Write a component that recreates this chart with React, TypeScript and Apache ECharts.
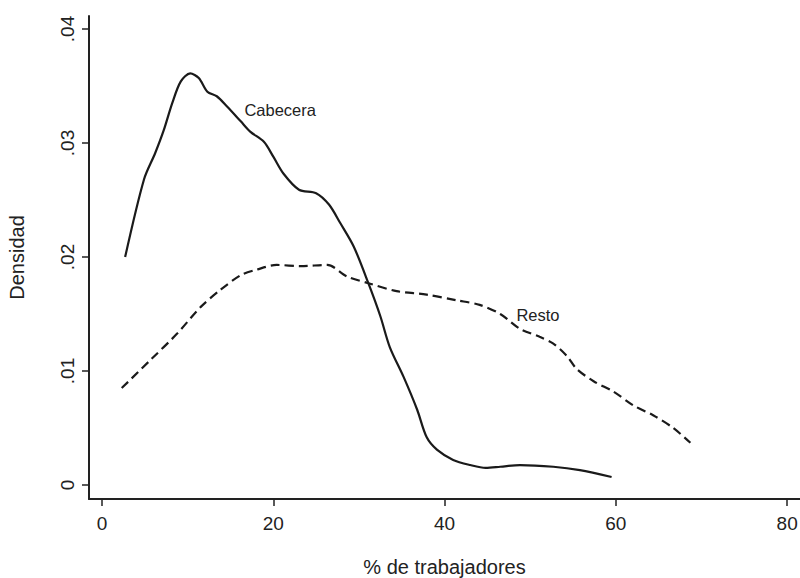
import React, { useEffect, useRef } from "react";
import * as echarts from "echarts";

const cabeceraX = [2.7, 4.9, 6.2, 7.2, 8.2, 9.2, 10.3, 11.3, 12.3, 13.4, 14.6, 16.2, 17.3, 18.9, 20.0, 21.2, 23.0, 25.0, 26.5, 27.8, 29.4, 31.1, 32.5, 33.6, 35.2, 36.8, 37.9, 39.1, 41.0, 43.0, 44.8, 46.5, 48.8, 52.7, 55.8, 59.5];
const cabeceraY = [0.0200, 0.0268, 0.0291, 0.0311, 0.0335, 0.0354, 0.0361, 0.0357, 0.0345, 0.0341, 0.0332, 0.0319, 0.0310, 0.0301, 0.0288, 0.0273, 0.0259, 0.0256, 0.0246, 0.0230, 0.0209, 0.0177, 0.0148, 0.0121, 0.0095, 0.0066, 0.0042, 0.0031, 0.0022, 0.00175, 0.0015, 0.0016, 0.00175, 0.0016, 0.0013, 0.0007];

const restoX = [2.3, 5.7, 8.8, 11.5, 13.8, 16.2, 18.1, 20.4, 23.2, 26.3, 28.6, 31.1, 34.4, 37.9, 41.4, 44.1, 46.5, 48.8, 51.1, 52.7, 54.3, 55.4, 57.4, 59.7, 62.0, 64.4, 66.7, 68.7];
const restoY = [0.0085, 0.0110, 0.0133, 0.0156, 0.0171, 0.0184, 0.0189, 0.0193, 0.0192, 0.0193, 0.0183, 0.0177, 0.0170, 0.0167, 0.0162, 0.0158, 0.0150, 0.0137, 0.0130, 0.0124, 0.0113, 0.0102, 0.0091, 0.0082, 0.0070, 0.0061, 0.0050, 0.0037];

const xTicks = [0, 20, 40, 60, 80];
const yTicks = [0, 0.01, 0.02, 0.03, 0.04];
const yTickLabels = ["0", ".01", ".02", ".03", ".04"];

const seriesNames = ["Cabecera", "Resto"];
const labelPos = [[20.8, 0.0329], [50.9, 0.0149]];

const FONT = "'Liberation Sans', Arial, Helvetica, sans-serif";
const INK = "#222";

export default function App() {
  const ref = useRef<HTMLDivElement>(null);
  useEffect(() => {
    if (!ref.current) return;
    const chart = echarts.init(ref.current, null, { renderer: "svg" });
    const mk = (i: number) => ({
      symbol: "circle",
      symbolSize: 1,
      silent: true,
      itemStyle: { color: "rgba(0,0,0,0)" },
      label: {
        show: true,
        formatter: seriesNames[i],
        color: INK,
        fontSize: 16.5,
        fontFamily: FONT,
        position: "inside",
      },
      data: [{ coord: labelPos[i] }],
    });
    chart.setOption({
      animation: false,
      backgroundColor: "#fff",
      textStyle: { fontFamily: FONT },
      grid: { left: 89, top: 16, right: 0, bottom: 79, containLabel: false, outerBoundsMode: "none" },
      xAxis: {
        type: "value",
        min: -1.52,
        max: 81.5,
        name: "% de trabajadores",
        nameLocation: "middle",
        nameGap: 58,
        nameTextStyle: { fontSize: 20, color: INK, fontFamily: FONT },
        axisLine: { show: true, onZero: false, lineStyle: { color: INK, width: 2 } },
        axisTick: { show: true, length: 7, customValues: xTicks, lineStyle: { color: INK, width: 1.5 } },
        axisLabel: { show: true, customValues: xTicks, fontSize: 19, color: INK, margin: 15, fontFamily: FONT },
        splitLine: { show: false },
      },
      yAxis: {
        type: "value",
        min: -0.00123,
        max: 0.04114,
        name: "Densidad",
        nameLocation: "middle",
        nameGap: 62,
        nameRotate: 90,
        nameTextStyle: { fontSize: 20, color: INK, fontFamily: FONT },
        axisLine: { show: true, onZero: false, lineStyle: { color: INK, width: 2 } },
        axisTick: { show: true, length: 7, customValues: yTicks, lineStyle: { color: INK, width: 1.5 } },
        axisLabel: {
          show: true,
          customValues: yTicks,
          rotate: 90,
          fontSize: 19,
          color: INK,
          margin: 12,
          fontFamily: FONT,
          formatter: (v: number) => {
            const i = yTicks.findIndex((t) => Math.abs(t - v) < 1e-9);
            return i >= 0 ? yTickLabels[i] : "";
          },
        },
        splitLine: { show: false },
      },
      series: [
        {
          name: seriesNames[0],
          type: "line",
          showSymbol: false,
          smooth: 0.3,
          data: cabeceraX.map((x, i) => [x, cabeceraY[i]]),
          lineStyle: { color: "#1a1a1a", width: 2.2, type: "solid" },
          markPoint: mk(0),
        },
        {
          name: seriesNames[1],
          type: "line",
          showSymbol: false,
          smooth: 0.3,
          data: restoX.map((x, i) => [x, restoY[i]]),
          lineStyle: { color: "#1a1a1a", width: 2.2, type: [9, 5] },
          markPoint: mk(1),
        },
      ],
    });
    return () => chart.dispose();
  }, []);
  return (
    <div
      ref={ref}
      style={{ position: "fixed", left: 0, top: 0, width: 800, height: 578, background: "#fff" }}
    />
  );
}
